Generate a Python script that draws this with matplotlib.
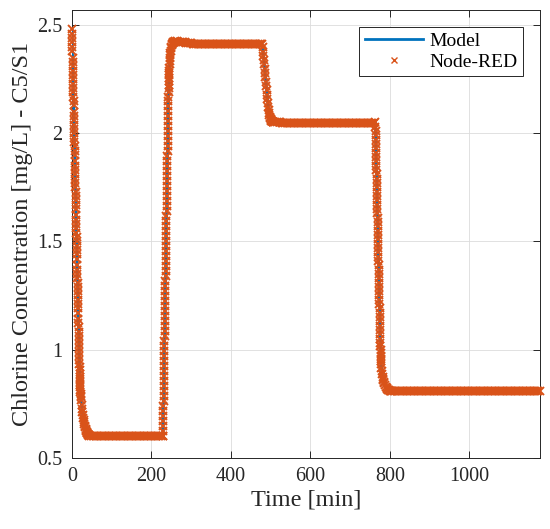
import numpy as np
import matplotlib
matplotlib.use("Agg")
import matplotlib.pyplot as plt

plt.rcParams['font.family'] = ['Liberation Serif', 'DejaVu Serif']

# chlorine concentration at C5/S1
# each segment: start time [min], sample step [min], values [mg/L]
drop1_vals = [2.48, 2.46, 2.44, 2.42, 2.40, 2.38, 2.35, 2.33, 2.31, 2.29,
              2.27, 2.25, 2.23, 2.21, 2.19, 2.17, 2.15, 2.13, 2.10, 2.08,
              2.06, 2.04, 2.02, 2.00, 1.98, 1.96, 1.94, 1.92, 1.90, 1.87,
              1.85, 1.83, 1.81, 1.79, 1.77, 1.75, 1.73, 1.71, 1.69, 1.67,
              1.65, 1.62, 1.60, 1.58, 1.56, 1.54, 1.52, 1.50, 1.48, 1.46,
              1.44, 1.42, 1.39, 1.37, 1.35, 1.33, 1.31, 1.29, 1.27, 1.25,
              1.23, 1.21, 1.19, 1.17, 1.14, 1.124, 1.103, 1.083, 1.063, 1.043,
              1.024, 1.005, 0.987, 0.969, 0.952, 0.935, 0.919, 0.904, 0.889, 0.875,
              0.862, 0.849, 0.837, 0.826, 0.815, 0.805, 0.796, 0.787, 0.779]
tail1_vals = [0.765, 0.745, 0.727, 0.711, 0.697, 0.685, 0.674, 0.664, 0.655, 0.647,
              0.640, 0.634, 0.628, 0.623, 0.619, 0.615, 0.612, 0.609, 0.607, 0.605,
              0.603]
low_vals = [0.602, 0.601, 0.601, 0.600, 0.600, 0.600, 0.600, 0.600, 0.600, 0.600,
            0.600, 0.600, 0.600, 0.600, 0.600, 0.600, 0.599, 0.599, 0.599, 0.599,
            0.599, 0.599, 0.599, 0.599, 0.599, 0.599, 0.599, 0.599, 0.599, 0.599,
            0.599, 0.599, 0.599, 0.599, 0.599, 0.599, 0.599, 0.599, 0.599, 0.599,
            0.599, 0.599, 0.599, 0.599, 0.599, 0.599, 0.599]
rise_vals = [0.600, 0.623, 0.646, 0.669, 0.693, 0.716, 0.739, 0.762, 0.785, 0.808,
             0.831, 0.855, 0.878, 0.901, 0.924, 0.947, 0.970, 0.993, 1.017, 1.040,
             1.063, 1.086, 1.109, 1.132, 1.155, 1.179, 1.202, 1.225, 1.248, 1.271,
             1.294, 1.317, 1.340, 1.364, 1.387, 1.410, 1.433, 1.456, 1.479, 1.502,
             1.526, 1.549, 1.572, 1.595, 1.618, 1.641, 1.664, 1.688, 1.711, 1.734,
             1.757, 1.780, 1.803, 1.826, 1.850, 1.873, 1.896, 1.919, 1.942, 1.965,
             1.988, 2.011, 2.035, 2.058, 2.081, 2.104]
rise_bend_vals = [2.127, 2.150, 2.170, 2.190, 2.208, 2.225, 2.240, 2.255, 2.268, 2.280,
                  2.290, 2.300]
rise_bend2_vals = [2.320, 2.335, 2.350, 2.362, 2.372, 2.380]
rise_tail_vals = [2.392, 2.400, 2.407, 2.412, 2.416, 2.419, 2.421, 2.423, 2.424]
high_vals = [2.425, 2.425, 2.424, 2.423, 2.422, 2.421, 2.420, 2.419, 2.418, 2.417,
             2.416, 2.415, 2.415, 2.414, 2.414, 2.413, 2.413, 2.413, 2.412, 2.412,
             2.412, 2.412, 2.412, 2.412, 2.412, 2.412, 2.412, 2.412, 2.412, 2.412,
             2.411, 2.411, 2.411, 2.411, 2.411, 2.411, 2.411, 2.411, 2.411, 2.411,
             2.411, 2.411, 2.411, 2.411, 2.411, 2.411, 2.411, 2.411, 2.411, 2.411,
             2.411, 2.411, 2.411, 2.411, 2.411]
drop3_vals = [2.411, 2.398, 2.378, 2.358, 2.338, 2.318, 2.298, 2.278, 2.258, 2.238,
              2.218, 2.198, 2.178, 2.158, 2.139, 2.122, 2.107, 2.095, 2.085, 2.077,
              2.071, 2.066, 2.062, 2.059, 2.057, 2.055, 2.054, 2.053, 2.052, 2.051]
mid_vals = [2.051, 2.050, 2.050, 2.050, 2.049, 2.049, 2.049, 2.049, 2.049, 2.049,
            2.049, 2.049, 2.049, 2.049, 2.049, 2.049, 2.049, 2.049, 2.049, 2.049,
            2.048, 2.048, 2.048, 2.048, 2.048, 2.048, 2.048, 2.048, 2.048, 2.048,
            2.048, 2.048, 2.048, 2.048, 2.048, 2.048, 2.048, 2.048, 2.048, 2.048,
            2.048, 2.048, 2.048, 2.048, 2.048, 2.048, 2.048, 2.048, 2.048, 2.048,
            2.048, 2.048, 2.048, 2.048, 2.048, 2.048, 2.048, 2.048, 2.048, 2.048,
            2.048, 2.048, 2.048]
drop4_vals = [2.05, 2.03, 2.01, 1.99, 1.97, 1.95, 1.93, 1.91, 1.89, 1.87,
              1.85, 1.83, 1.81, 1.79, 1.77, 1.75, 1.73, 1.71, 1.69, 1.67,
              1.65, 1.63, 1.61, 1.59, 1.57, 1.55, 1.53, 1.51, 1.49, 1.47,
              1.45, 1.43, 1.41, 1.39, 1.37, 1.35, 1.33, 1.31, 1.29, 1.27,
              1.25, 1.23, 1.21, 1.19, 1.17, 1.15, 1.13, 1.11, 1.09, 1.07,
              1.05]
drop4_bend_vals = [1.032, 1.015, 0.999, 0.984, 0.970, 0.957, 0.945, 0.934]
drop4_tail_vals = [0.915, 0.899, 0.886, 0.875, 0.866, 0.858, 0.851, 0.845]
drop4_tail2_vals = [0.835, 0.828, 0.822, 0.818, 0.815, 0.812, 0.810, 0.809, 0.808, 0.807]
final_vals = [0.807, 0.807, 0.807, 0.807, 0.807, 0.807, 0.807, 0.807, 0.807, 0.807,
              0.807, 0.807, 0.807, 0.807, 0.807, 0.807, 0.807, 0.807, 0.807, 0.807,
              0.807, 0.807, 0.807, 0.807, 0.807, 0.808, 0.808, 0.808, 0.808, 0.808,
              0.808, 0.808, 0.808, 0.808, 0.808, 0.808, 0.808, 0.808, 0.808, 0.808,
              0.808, 0.808, 0.808, 0.808, 0.808, 0.808, 0.808, 0.808, 0.808, 0.808,
              0.808, 0.808, 0.808, 0.808, 0.808, 0.808, 0.808, 0.808, 0.808, 0.808,
              0.809, 0.809, 0.809, 0.809, 0.809, 0.809, 0.809, 0.809, 0.809, 0.809,
              0.809, 0.809, 0.809, 0.809, 0.809, 0.809, 0.809, 0.809, 0.809, 0.809,
              0.809, 0.809, 0.809, 0.809, 0.809, 0.809, 0.809, 0.809, 0.809, 0.809,
              0.809, 0.809, 0.809]

segments = [
    (0.0, 0.25, drop1_vals),
    (23.0, 1.0, tail1_vals),
    (44.0, 4.0, low_vals),
    (229.0, 0.2, rise_vals),
    (242.25, 0.25, rise_bend_vals),
    (245.5, 0.5, rise_bend2_vals),
    (249.0, 1.0, rise_tail_vals),
    (260.0, 4.0, high_vals),
    (479.0, 1.0, drop3_vals),
    (512.0, 4.0, mid_vals),
    (763.5, 0.25, drop4_vals),
    (776.25, 0.25, drop4_bend_vals),
    (779.0, 1.0, drop4_tail_vals),
    (788.0, 2.0, drop4_tail2_vals),
    (810.0, 4.0, final_vals),
]

t = np.concatenate([t0 + dt * np.arange(len(v)) for t0, dt, v in segments])
model = np.concatenate([np.asarray(v, dtype=float) for _, _, v in segments])
node_red = model.copy()

blue = '#0072BD'
orange = '#D95319'
dark = '#262626'

fig = plt.figure(figsize=(5.5, 5.29), dpi=100)
ax = fig.add_axes([0.1309, 0.1348, 0.8509, 0.8463])

ax.plot(t, model, color=blue, lw=2.0, label='Model', zorder=3)
ax.plot(t, node_red, 'x', color=orange, ms=5.5, mew=1.4, label='Node-RED',
        zorder=4, clip_on=False)

ax.set_xlim(0, 1178)
ax.set_ylim(0.5, 2.57)
ax.set_xticks([0, 200, 400, 600, 800, 1000])
ax.set_yticks([0.5, 1, 1.5, 2, 2.5])
ax.set_yticklabels(['0.5', '1', '1.5', '2', '2.5'])

ax.grid(True, color='#dcdcdc', lw=0.6)
ax.set_axisbelow(True)
ax.tick_params(direction='in', top=True, right=True, length=5, width=0.7,
               colors=dark, labelsize=14.5, pad=7)
for s in ax.spines.values():
    s.set_color(dark)
    s.set_linewidth(0.7)

ax.set_xlabel('Time [min]', fontsize=17.5, color=dark, labelpad=2)
ax.set_ylabel('Chlorine Concentration [mg/L] - C5/S1', fontsize=17.5, color=dark,
              labelpad=3)

leg = ax.legend(loc='upper right', bbox_to_anchor=(0.964, 0.963), borderaxespad=0,
                fontsize=14, handlelength=3.0, handletextpad=0.3, labelspacing=0.15,
                borderpad=0.3, fancybox=False, framealpha=1, edgecolor=dark,
                markerscale=0.8)
leg.get_frame().set_linewidth(0.7)
leg.legend_handles[1].set_markeredgewidth(1.0)

fig.savefig('out.png', dpi=100)
